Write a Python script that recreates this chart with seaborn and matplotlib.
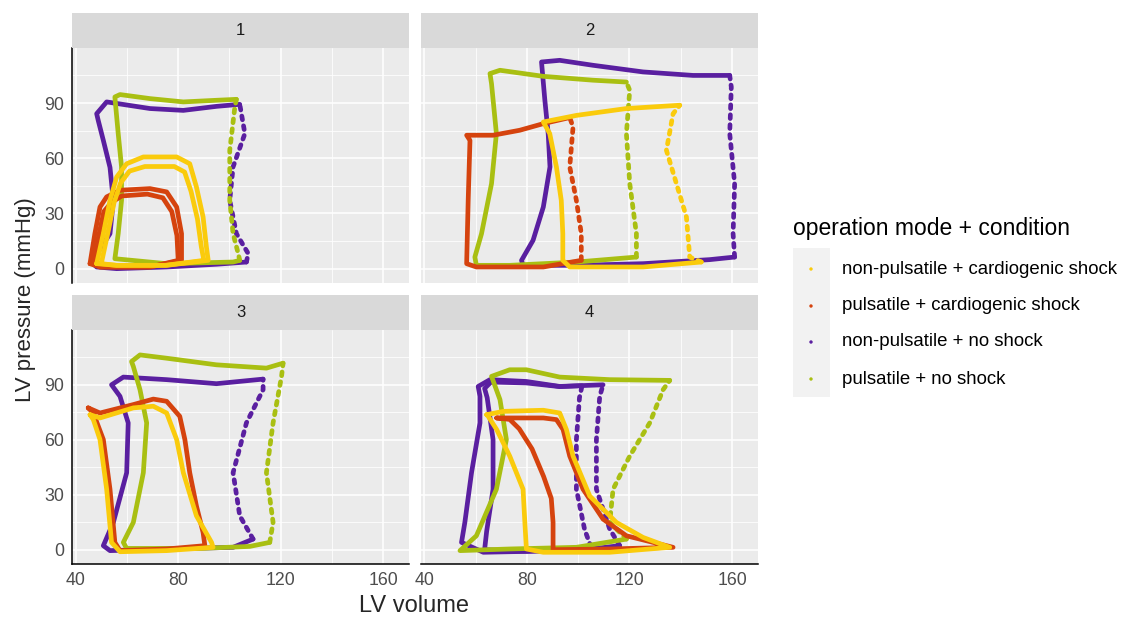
import numpy as np
import pandas as pd
import matplotlib
matplotlib.use("Agg")
import matplotlib.pyplot as plt
from matplotlib.ticker import FixedLocator
from matplotlib.patches import Rectangle
import seaborn as sns

# ---------------- data ----------------
SERIES = ["non-pulsatile + cardiogenic shock", "pulsatile + cardiogenic shock",
          "non-pulsatile + no shock", "pulsatile + no shock"]
COLORS = ["#FACB0C", "#D5430E", "#5A1FA0", "#A9BF12"]
PANELS = ["1", "2", "3", "4"]
X_TICKS = [40, 80, 120, 160]
Y_TICKS = [0, 30, 60, 90]

# ---- panel 1 ----
p1_purple_v = [104, 95, 82, 69, 52.1, 48.2, 48.8, 50.8, 53.4, 54.7, 53.4, 46.2, 48.2, 56, 75.5, 95, 106.6]
p1_purple_p = [89.3, 88.2, 86, 87, 90.6, 84.2, 80.6, 69.7, 55, 37, 19, 3.6, 0.9, 0, 0.9, 2.4, 3.6]
p1_purple_sv = [106.6, 107.3, 102.7, 100.1, 101.4, 106, 104]
p1_purple_sp = [3.6, 8.2, 19, 37.1, 55.3, 73.4, 89.3]
p1_green_v = [102.7, 95, 82, 69, 57.3, 55.3, 56.6, 57.9, 57.9, 56.6, 55.3, 75.5, 101.4, 104]
p1_green_p = [92, 91.5, 90.6, 92.4, 94.6, 93.3, 73.4, 55.3, 37.1, 19, 5.4, 2.7, 3.6, 4.5]
p1_green_sv = [104, 103.4, 101.4, 100.1, 100.1, 102.1, 102.7]
p1_green_sp = [4.5, 8.2, 19, 37, 64.3, 87.9, 92]
p1_red_v = [45.6, 47.5, 49.5, 52.1, 57.3, 69, 75.5, 79.4, 81.3, 81.3, 69, 49.5, 45.6]
p1_red_p = [2.7, 19, 33.5, 39, 42.6, 43.5, 41.7, 33.5, 19, 4.5, 0.9, 0.9, 2.7]
p1_red2_v = [47, 49, 51, 54, 58, 68, 74, 77.5, 79.5, 80, 69, 49.5, 47]
p1_red2_p = [2.7, 18, 31, 36, 39.5, 40.5, 38.5, 31, 18, 4.5, 0.9, 0.9, 2.7]
p1_yellow_v = [48.2, 50.8, 53.4, 56, 59.9, 66.4, 79.4, 84.5, 87.1, 89.7, 91, 91.7, 75.5, 56, 48.2]
p1_yellow_p = [2.7, 19, 37.1, 49.8, 57, 60.7, 60.7, 57, 44.4, 28.1, 11.8, 4.5, 1.8, 1.8, 2.7]
p1_yellow2_v = [50, 52.5, 55, 57.5, 61, 67, 78.5, 82.5, 85, 87.5, 89, 90, 75, 56, 50]
p1_yellow2_p = [2.7, 19, 36, 46.5, 53, 55.5, 55.5, 52.5, 42, 27, 12, 4.5, 1.8, 1.8, 2.7]

# ---- panel 2 ----
p2_purple_v = [159.1, 144.8, 125.3, 105.8, 92.8, 85.7, 87, 88.3, 89, 86.4, 82.4, 77.9, 78.5, 99.4, 125.3, 151.3, 161]
p2_purple_p = [105, 105, 106.9, 110.5, 113.2, 112.3, 91.5, 73.4, 55.3, 33.5, 15.4, 4.5, 1.8, 1.8, 2.7, 4.9, 6.3]
p2_purple_sv = [161, 160.4, 161, 159.1, 159.7, 159.1]
p2_purple_sp = [6.3, 19, 46.2, 73.4, 98.7, 105]
p2_green_v = [118.8, 105.8, 86.4, 69.5, 65.6, 66.2, 68.1, 66.2, 62.3, 59.7, 60.3, 73.3, 99.4, 122.7]
p2_green_p = [101.4, 102.4, 104.5, 107.8, 106, 100.5, 73.4, 46.2, 19, 6.3, 1.8, 1.8, 3.6, 6.3]
p2_green_sv = [122.7, 122.7, 120.1, 118.8, 120.1, 118.8]
p2_green_sp = [6.3, 19, 46.2, 73.4, 96.9, 101.4]
p2_red_v = [96.7, 86.4, 77.2, 66.8, 56.5, 57.8, 57.1, 56.5, 60.3, 86.4, 101.2]
p2_red_p = [82.1, 78.8, 75.2, 72.5, 72.5, 69.7, 37.1, 2.7, 0.9, 0.9, 4.5]
p2_red_sv = [101.2, 101.2, 99.3, 96.7, 98, 96.7]
p2_red_sp = [4.5, 19, 37.1, 55.3, 77, 82.1]
p2_yellow_v = [139.6, 118.8, 99.4, 86.4, 88.9, 91.5, 93.4, 94, 94, 96.7, 125.3, 148]
p2_yellow_p = [88.8, 87, 83.3, 79.7, 73.4, 55.3, 37.1, 19, 4.5, 0.9, 0.9, 3.6]
p2_yellow_sv = [148, 143.5, 142.2, 138.3, 134.4, 137, 139.6]
p2_yellow_sp = [3.6, 6.3, 28.1, 46.2, 64.3, 84.2, 88.8]

# ---- panel 3 ----
p3_green_v = [120.9, 114.4, 94.9, 75.5, 65.1, 61.8, 62.5, 65.1, 67.7, 66.4, 62.5, 58.6, 59.9, 88.4, 107.9, 115.7]
p3_green_p = [101.8, 99.1, 100.9, 104.5, 106.3, 102.7, 100, 87.3, 69.2, 42, 14.9, 4, 0.7, 0.7, 1.8, 4]
p3_green_sv = [115.7, 117, 114.4, 117, 120.3, 120.9]
p3_green_sp = [4, 14.9, 42, 69.2, 94.6, 101.8]
p3_purple_v = [113.1, 94.9, 75.5, 58.6, 54, 57.3, 60.5, 59.9, 54.7, 50.8, 53.4, 75.5, 101.4, 109.2]
p3_purple_p = [93.1, 90.6, 92.8, 94.2, 90, 83.7, 69.2, 42, 14.9, 2.2, -0.5, 0.4, 1.3, 5.8]
p3_purple_sv = [109.2, 104, 101.4, 106.6, 113.1, 113.1]
p3_purple_sp = [5.8, 18.5, 42, 69.2, 87.3, 93.1]
p3_red_v = [44.9, 49.5, 62.5, 70.3, 75.5, 80.6, 82.6, 84.5, 87.1, 89.7, 90.4, 75.5, 57.3, 55.3, 53.4, 50.8, 46.9, 44.9]
p3_red_p = [77.4, 74.6, 79.2, 82.2, 81, 72.8, 60.1, 42, 23.9, 9.4, 2.2, 0.4, -0.5, 4, 33, 60.1, 74.6, 77.4]
p3_yellow_v = [45.6, 49.5, 62.5, 70.3, 75.5, 79.4, 82, 87.1, 93, 93.6, 75.5, 57.3, 54, 52.1, 49.5, 46.9, 45.6]
p3_yellow_p = [73.7, 71.9, 77.4, 78.3, 74.6, 60.1, 42, 18.5, 4, 1.3, -0.5, -1.1, 4, 33, 60.1, 71, 73.7]

# ---- panel 4 ----
p4_green_v = [135.7, 112.3, 92.8, 79.8, 73.3, 66.2, 69.5, 72, 68.1, 60.3, 53.9, 73.3, 99.3, 118.8]
p4_green_p = [92.4, 92.8, 94.2, 98.2, 98.2, 94.6, 81.9, 60.1, 33, 7.6, -0.5, 0.4, 1.3, 5.8]
p4_green_sv = [118.8, 112.3, 113.6, 120.1, 127.9, 133.1, 135.7]
p4_green_sp = [5.8, 14.9, 33, 51.1, 69.2, 87.3, 92.4]
p4_purple_v = [109.7, 92.8, 79.8, 65.6, 61, 61.7, 61.7, 58.4, 55.8, 54.5, 63, 73.3, 99.3, 116.2]
p4_purple_p = [90, 89.1, 91.8, 92.8, 89.1, 83.7, 69.2, 42, 14.9, 4, -1.4, -1.1, -0.5, 2.2]
p4_purple_sv = [116.2, 112.3, 107.1, 107.1, 108.4, 109.7]
p4_purple_sp = [2.2, 11.2, 33, 60.1, 83.7, 90]
p4_purple2_v = [101.5, 92.8, 79.8, 66, 63.5, 64.5, 66.8, 66.8, 64.3, 63.5, 80, 105]
p4_purple2_p = [89.5, 89, 91, 91.5, 88, 83, 60.1, 33, 10, 0, -0.8, 1.5]
p4_purple2_sv = [105, 102.5, 99.3, 99.3, 100.5, 101.5]
p4_purple2_sp = [1.5, 11, 33, 60.1, 83, 89.5]
p4_red_v = [68.2, 73.3, 86.4, 91.5, 94.1, 96.7, 101.9, 109.7, 118.8, 137, 112.3, 90.2, 90.2, 89.5, 86.5, 82, 77, 73.3, 68.2]
p4_red_p = [71.9, 71.9, 71.9, 71, 65.6, 51.1, 33, 16.7, 7.6, 1.3, 0.4, 0, 14.9, 28, 40, 55, 66, 71.1, 71.9]
p4_yellow_v = [64.3, 70.8, 86.4, 92.8, 95.4, 98, 104.5, 114.9, 125.3, 135.7, 112.3, 86.4, 79.8, 79.2, 78.5, 73.3, 68.2, 64.9, 64.3]
p4_yellow_p = [73.7, 75.5, 76.1, 74.6, 65.6, 51.1, 29.3, 14.9, 6.7, 1.3, -1.4, -1.4, 0.4, 14.9, 33, 51.1, 65.6, 72.8, 73.7]

# (panel, series index, phase, V list, P list)
PARTS = [
    ("1", 2, "dense", p1_purple_v, p1_purple_p), ("1", 2, "sparse", p1_purple_sv, p1_purple_sp),
    ("1", 3, "dense", p1_green_v, p1_green_p), ("1", 3, "sparse", p1_green_sv, p1_green_sp),
    ("1", 1, "dense", p1_red_v, p1_red_p), ("1", 1, "dense", p1_red2_v, p1_red2_p),
    ("1", 0, "dense", p1_yellow_v, p1_yellow_p), ("1", 0, "dense", p1_yellow2_v, p1_yellow2_p),
    ("2", 2, "dense", p2_purple_v, p2_purple_p), ("2", 2, "sparse", p2_purple_sv, p2_purple_sp),
    ("2", 3, "dense", p2_green_v, p2_green_p), ("2", 3, "sparse", p2_green_sv, p2_green_sp),
    ("2", 1, "dense", p2_red_v, p2_red_p), ("2", 1, "sparse", p2_red_sv, p2_red_sp),
    ("2", 0, "dense", p2_yellow_v, p2_yellow_p), ("2", 0, "sparse", p2_yellow_sv, p2_yellow_sp),
    ("3", 2, "dense", p3_purple_v, p3_purple_p), ("3", 2, "sparse", p3_purple_sv, p3_purple_sp),
    ("3", 3, "dense", p3_green_v, p3_green_p), ("3", 3, "sparse", p3_green_sv, p3_green_sp),
    ("3", 1, "dense", p3_red_v, p3_red_p),
    ("3", 0, "dense", p3_yellow_v, p3_yellow_p),
    ("4", 2, "dense", p4_purple_v, p4_purple_p), ("4", 2, "sparse", p4_purple_sv, p4_purple_sp),
    ("4", 2, "dense", p4_purple2_v, p4_purple2_p), ("4", 2, "sparse", p4_purple2_sv, p4_purple2_sp),
    ("4", 3, "dense", p4_green_v, p4_green_p), ("4", 3, "sparse", p4_green_sv, p4_green_sp),
    ("4", 1, "dense", p4_red_v, p4_red_p),
    ("4", 0, "dense", p4_yellow_v, p4_yellow_p),
]

rows = []
for uid, (panel, si, phase, vv, pp) in enumerate(PARTS):
    for order, (v, p) in enumerate(zip(vv, pp)):
        rows.append(dict(panel=panel, series=SERIES[si], phase=phase, part=uid,
                         order=order, V=v, P=p))
df = pd.DataFrame(rows)

# ---------------- styling ----------------
sns.set_theme(style="darkgrid")
plt.rcParams["font.family"] = ["Liberation Sans", "DejaVu Sans"]
plt.rcParams["axes.facecolor"] = "#EBEBEB"

W, H = 1128, 617
fig = plt.figure(figsize=(W / 100, H / 100), dpi=100)
fig.patch.set_facecolor("white")

def fbox(x0, y0, x1, y1):
    return [x0 / W, 1 - y1 / H, (x1 - x0) / W, (y1 - y0) / H]

panel_px = {"1": (72.3, 48, 409, 283), "2": (421, 48, 757.7, 283),
            "3": (72.3, 330, 409, 564), "4": (421, 330, 757.7, 564)}
strip_h = 35

draw_order = [2, 3, 1, 0]
for panel in PANELS:
    x0, y0, x1, y1 = panel_px[panel]
    ax = fig.add_axes(fbox(x0, y0, x1, y1))
    ax.set_facecolor("#EBEBEB")
    sub = df[df.panel == panel]
    for si in draw_order:
        s = sub[sub.series == SERIES[si]]
        if s.empty:
            continue
        sns.lineplot(data=s, x="V", y="P", units="part", estimator=None, sort=False,
                     style="phase", style_order=["dense", "sparse"],
                     dashes={"dense": "", "sparse": (0.8, 1.3)},
                     color=COLORS[si], lw=3.4, legend=False, ax=ax,
                     solid_capstyle="round", dash_capstyle="round")
    ax.set_xlim(38.7, 170)
    ax.set_ylim(-7.8, 119.9)
    ax.xaxis.set_major_locator(FixedLocator(X_TICKS))
    ax.yaxis.set_major_locator(FixedLocator(Y_TICKS))
    ax.xaxis.set_minor_locator(FixedLocator([60, 100, 140]))
    ax.yaxis.set_minor_locator(FixedLocator([15, 45, 75, 105]))
    ax.grid(which="major", color="white", lw=1.1)
    ax.grid(which="minor", color="white", lw=0.55)
    ax.set_axisbelow(True)
    ax.set_xlabel("")
    ax.set_ylabel("")
    for sp in ax.spines.values():
        sp.set_visible(False)
    left = panel in ("1", "3")
    bottom = panel in ("3", "4")
    ax.tick_params(which="minor", length=0)
    ax.tick_params(axis="both", which="major", colors="black", length=4, width=1.0,
                   labelcolor="#4D4D4D", labelsize=12.8, pad=2)
    if left:
        ax.spines["left"].set_visible(True)
        ax.spines["left"].set_color("black")
        ax.spines["left"].set_linewidth(1.1)
    else:
        ax.tick_params(axis="y", left=False, labelleft=False)
    if bottom:
        ax.spines["bottom"].set_visible(True)
        ax.spines["bottom"].set_color("black")
        ax.spines["bottom"].set_linewidth(1.1)
    else:
        ax.tick_params(axis="x", bottom=False, labelbottom=False)
    # strip
    sax = fig.add_axes(fbox(x0, y0 - strip_h, x1, y0 - 0.5))
    sax.set_facecolor("#D9D9D9")
    sax.set_xticks([]); sax.set_yticks([])
    for sp in sax.spines.values():
        sp.set_visible(False)
    sax.text(0.5, 0.5, panel, ha="center", va="center", fontsize=12,
             color="#1A1A1A", transform=sax.transAxes)

fig.text(414 / W, 1 - 606 / H, "LV volume", ha="center", va="center", fontsize=17)
fig.text(26 / W, 1 - 300 / H, "LV pressure (mmHg)", ha="center", va="center",
         rotation=90, fontsize=16)

# legend (drawn on an overlay axes in pixel coordinates)
lax = fig.add_axes([0, 0, 1, 1], facecolor="none")
lax.set_xlim(0, W); lax.set_ylim(H, 0); lax.axis("off")
lax.add_patch(Rectangle((793, 248), 37, 149, facecolor="#F2F2F2",
                        edgecolor="none", zorder=0))
lax.text(793, 228, "operation mode + condition", ha="left", va="center",
         fontsize=16.5, color="black")
item_y = [269, 306, 342, 379]
sns.scatterplot(x=[811] * 4, y=item_y, hue=SERIES, palette=COLORS, s=6,
                legend=False, ax=lax, linewidth=0, zorder=3)
for yy, lab in zip(item_y, SERIES):
    lax.text(842, yy, lab, ha="left", va="center", fontsize=13.4, color="black")

fig.savefig("out.png", dpi=100, facecolor="white")
